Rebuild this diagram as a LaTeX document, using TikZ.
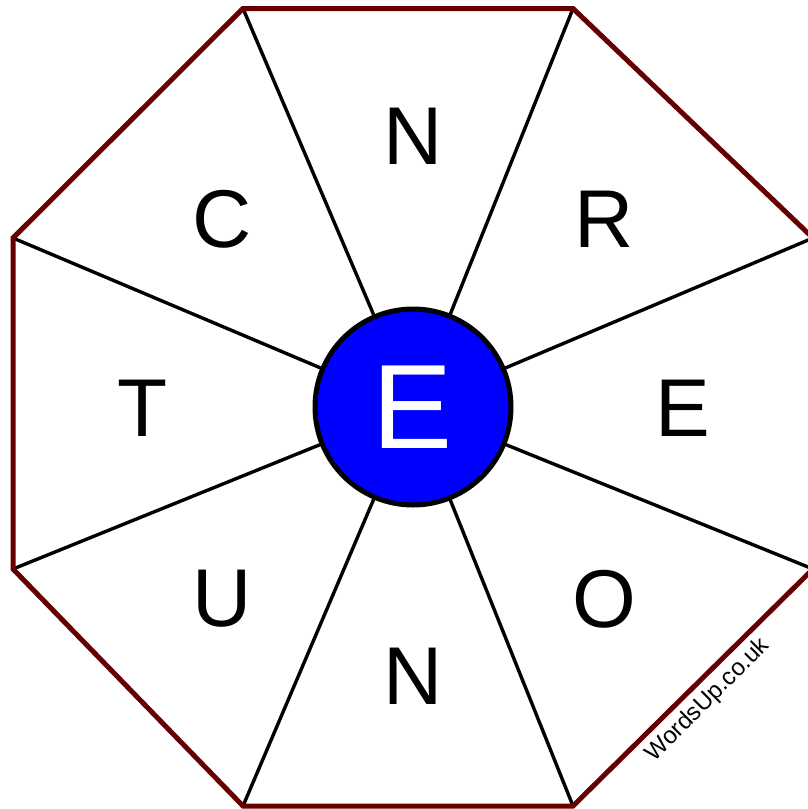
\documentclass[tikz,border=0pt]{standalone}
\usepackage{fontspec}
\setmainfont{Liberation Sans}
\usepackage{xcolor}
\usetikzlibrary{calc}
\definecolor{rimred}{RGB}{102,0,0}
\definecolor{hubblue}{RGB}{0,0,255}

\begin{document}
\begin{tikzpicture}[
    x=1pt,
    y=-1pt,
    rim/.style={
        draw=rimred,
        line width=5pt,
        line join=miter
    },
    spoke/.style={
        draw=black,
        line width=3.4pt
    },
    hub/.style={
        circle,
        draw=black,
        line width=5pt,
        fill=hubblue,
        minimum size=196pt,
        inner sep=0pt,
        text=white,
        font=\fontsize{120}{130}\selectfont
    },
    letter/.style={
        inner sep=0pt,
        font=\fontsize{82}{90}\selectfont
    },
    sitemark/.style={
        inner sep=0pt,
        rotate=45,
        font=\fontsize{24}{28}\selectfont
    }
]

\useasboundingbox (0,0) rectangle (808,809);
\clip (0,0) rectangle (808,809);

% octagon corners
\coordinate (c1) at (243,8.5);
\coordinate (c2) at (573,8.5);
\coordinate (c3) at (813,238);
\coordinate (c4) at (813,569);
\coordinate (c5) at (573,806);
\coordinate (c6) at (243,806);
\coordinate (c7) at (13,569);
\coordinate (c8) at (13,238);
\coordinate (mid) at (413,407);

% spokes
\foreach \i in {1,...,8}
    \draw[spoke] (mid) -- (c\i);

% outline
\draw[rim] (c1) -- (c2) -- (c3) -- (c4) -- (c5) -- (c6) -- (c7) -- (c8) -- cycle;

% centre letter
\node[hub] (centre) at (mid) {E};

% outer letters
\node[letter] (top)    at ($(mid)+(0,-271)$)     {N};
\node[letter] (topr)   at ($(mid)+(191,-188)$)   {R};
\node[letter] (right)  at ($(mid)+(270,1)$)      {E};
\node[letter] (botr)   at ($(mid)+(191,192)$)    {O};
\node[letter] (bottom) at ($(mid)+(0,269)$)      {N};
\node[letter] (botl)   at ($(mid)+(-191,192)$)   {U};
\node[letter] (left)   at ($(mid)+(-270,1)$)     {T};
\node[letter] (topl)   at ($(mid)+(-191,-188)$)  {C};

% site mark
\node[sitemark] (site) at (708,700) {WordsUp.co.uk};

\end{tikzpicture}
\end{document}
